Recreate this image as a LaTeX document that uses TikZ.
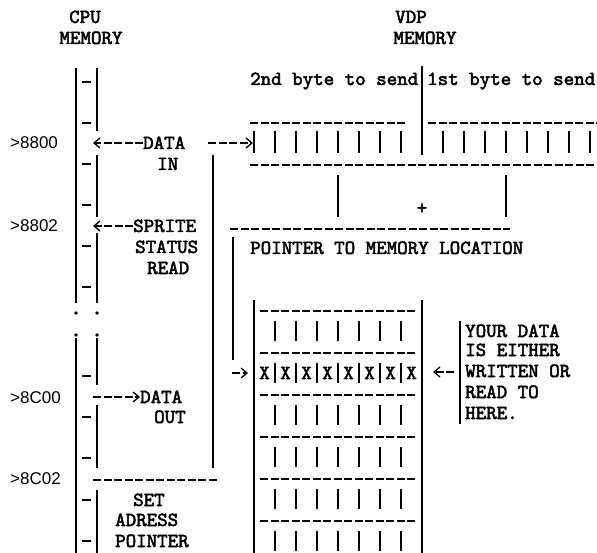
\documentclass[tikz,border=0pt]{standalone}
\usepackage{fontspec}
\newfontfamily\twfamily{lmmono10-regular.otf}[FakeBold=2.5]
\newfontfamily\addrfamily{Liberation Sans}
\newcommand{\twfont}{\twfamily\fontsize{20pt}{21pt}\selectfont}
\newcommand{\addrfont}{\addrfamily\fontsize{17pt}{20pt}\selectfont}
\usetikzlibrary{arrows.meta}
\begin{document}
\begin{tikzpicture}[x=1pt,y=-1pt,
  tw/.style={font=\twfont,inner sep=0pt,text height=12pt,text depth=0pt,anchor=west},
  addr/.style={font=\addrfont,inner sep=0pt,text height=12pt,text depth=0pt,anchor=west},
  memline/.style={line width=1.4pt},
  cellbar/.style={line width=1.4pt},
  tickmark/.style={line width=1.5pt},
  dashrule/.style={line width=1.3pt,dash pattern=on 8pt off 2.5pt},
  tyarrow/.style={line width=1.3pt,dash pattern=on 8pt off 2.5pt,-{Straight Barb[length=6pt,width=10pt]}}]
  \useasboundingbox (0,0) rectangle (597,553);

  % headings
  \node[tw,anchor=center] (cpu) at (85,17) {CPU};
  \node[tw,anchor=center] (cpumem) at (91,38) {MEMORY};
  \node[tw,anchor=center] (vdp) at (411,17) {VDP};
  \node[tw,anchor=center] (vdpmem) at (425,38) {MEMORY};

  % CPU memory map
  \node[addr] (a8800) at (10,143) {>8800};
  \node[addr] (a8802) at (10,226) {>8802};
  \node[addr] (a8C00) at (10,397) {>8C00};
  \node[addr] (a8C02) at (10,478) {>8C02};
  \draw[memline] (76,68) -- (76,303) (76,338) -- (76,553);
  \foreach \ya/\yb in {68/131,155/217,233/303,338/385,405/468,490/553}
    \draw[memline] (97,\ya) -- (97,\yb);
  \foreach \y in {82,123,164,205,246,287,376,417,458,500,541}
    \draw[tickmark] (82,\y) -- (91,\y);
  \foreach \y in {313,335} {
    \fill (76,\y) circle[radius=1.8pt];
    \fill (97,\y) circle[radius=1.8pt];
  }

  \node[tw] (datain) at (143,143) {DATA};
  \node[tw] (in) at (157,164) {IN};
  \node[tw] (sprite) at (133,226) {SPRITE};
  \node[tw] (status) at (135,247) {STATUS};
  \node[tw] (read) at (147,268) {READ};
  \node[tw] (dataout) at (140,397) {DATA};
  \node[tw] (out) at (154,417) {OUT};
  \node[tw] (set) at (133,500) {SET};
  \node[tw] (adress) at (115,520) {ADRESS};
  \node[tw] (pointer) at (115,541) {POINTER};

  \coordinate (p8800) at (93,143);
  \coordinate (p8802) at (93,226);
  \coordinate (p8C00) at (93,397);
  \draw[tyarrow] (datain.west) -- (p8800);
  \draw[tyarrow] (sprite.west) -- (p8802);
  \draw[tyarrow] (p8C00) -- (dataout.west);
  \draw[dashrule] (93,480) -- (218,480);
  \draw[memline] (213,155) -- (213,468);

  % VDP write register
  \coordinate (regin) at (208,143);
  \coordinate (reg) at (253,143);
  \draw[tyarrow] (regin) -- (reg);
  \node[tw] (second) at (250,79) {2nd byte to send};
  \node[tw] (first) at (427,79) {1st byte to send};
  \draw[dashrule] (250,123) -- (407,123) (428,123) -- (597,123);
  \draw[dashrule] (250,165) -- (597,165);
  \foreach \k in {0,...,16}
    \draw[cellbar] ({254+21*\k},131) -- ({254+21*\k},153);
  \draw[memline] (422,66) -- (422,155);
  \draw[memline] (338,175) -- (338,217) (506,175) -- (506,217);
  \node[tw,anchor=center] (plus) at (422,208) {+};
  \draw[dashrule] (230,229) -- (510,229);
  \node[tw] (ptrtext) at (250,248) {POINTER TO MEMORY LOCATION};
  \draw[memline] (233,237) -- (233,360);

  % VDP memory
  \coordinate (ptrin) at (232,373);
  \coordinate (box) at (248,373);
  \draw[tyarrow] (ptrin) -- (box);
  \draw[memline] (254,300) -- (254,553) (422,300) -- (422,553);
  \foreach \k in {0,...,5}
    \draw[dashrule] (260,{311+42*\k}) -- (417,{311+42*\k});
  \foreach \k in {0,...,5}
    \foreach \j in {0,...,6}
      \draw[cellbar] ({275+21*\j},{321+42*\k}) -- ({275+21*\j},{341+42*\k});
  \foreach \j in {0,...,7}
    \node[tw,anchor=center] (x\j) at ({264.5+21*\j},373) {X};

  % note
  \draw[memline] (460,321) -- (460,424);
  \coordinate (note) at (454,372);
  \coordinate (here) at (433,372);
  \draw[tyarrow] (note) -- (here);
  \node[tw] (n1) at (465,331) {YOUR DATA};
  \node[tw] (n2) at (465,350) {IS EITHER};
  \node[tw] (n3) at (465,371) {WRITTEN OR};
  \node[tw] (n4) at (465,392) {READ TO};
  \node[tw] (n5) at (465,413) {HERE.};
\end{tikzpicture}
\end{document}
